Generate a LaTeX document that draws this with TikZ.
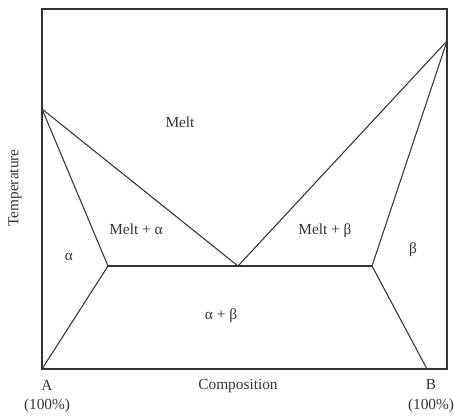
\documentclass[tikz,border=0pt]{standalone}
\usepackage{fontspec}
\setmainfont{Liberation Serif}
\usepackage{tikz}
\usetikzlibrary{positioning}
\usepackage{xcolor}
\definecolor{ink}{HTML}{333333}

\begin{document}
\begin{tikzpicture}[
    x=0.75pt,y=-0.75pt,
    line/.style={draw=ink,line width=0.8pt},
    lbl/.style={text=ink,font=\fontsize{11.5}{13}\selectfont,inner sep=1pt}
]
\useasboundingbox (0,0) rectangle (454,417);
% frame
\coordinate (tl) at (42,9);
\coordinate (br) at (447,369);
\draw[line] (tl) rectangle (br);
% key points
\coordinate (ma) at (42,109);   % melting point A
\coordinate (mb) at (447,41);   % melting point B
\coordinate (eu) at (238,266);  % eutectic
\coordinate (sa) at (108,266);
\coordinate (sb) at (372,266);
\coordinate (ba) at (42,369);
\coordinate (bb) at (427,369);

\draw[line] (ma) -- (eu) -- (mb);
\draw[line] (ma) -- (sa) -- (ba);
\draw[line] (mb) -- (sb) -- (bb);
\draw[line] (sa) -- (sb);

\node[lbl] (melt) at (180,122) {Melt};
\node[lbl] (mla)  at (136,229) {Melt + α};
\node[lbl] (mlb)  at (325,231) {Melt + β};
\node[lbl] (alf)  at (69,257) {α};
\node[lbl] (bet)  at (413,250) {β};
\node[lbl] (ab)   at (221,316) {α + β};

\node[lbl,rotate=90] (temp) at (15,188) {Temperature};
\node[lbl] (comp) at (238,386) {Composition};
\node[lbl] (a)  at (47,385) {A};
\node[lbl,below=4pt of a] (ap) {(100\%)};
\node[lbl] (b)  at (431,385) {B};
\node[lbl,below=4pt of b] (bp) {(100\%)};
\end{tikzpicture}
\end{document}
